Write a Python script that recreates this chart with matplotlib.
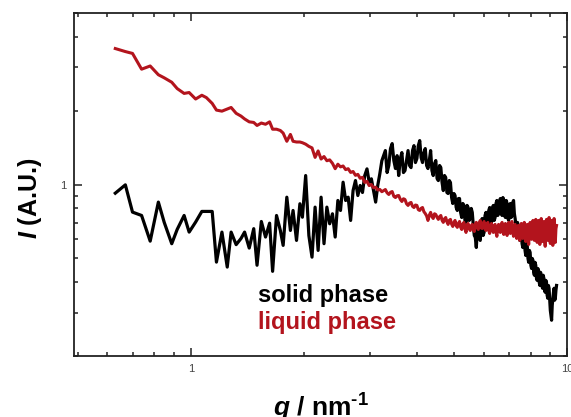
import numpy as np
import matplotlib
matplotlib.use('Agg')
import matplotlib.pyplot as plt
from matplotlib.ticker import FixedLocator, NullFormatter, FixedFormatter

plt.rcParams['font.family'] = ['Liberation Sans', 'DejaVu Sans']
plt.rcParams['mathtext.fontset'] = 'custom'
plt.rcParams['mathtext.it'] = 'Liberation Sans:italic:bold'
plt.rcParams['mathtext.rm'] = 'Liberation Sans:bold'
plt.rcParams['mathtext.bf'] = 'Liberation Sans:bold'

# scattering vector (nm^-1), low-q part (coarse steps)
q_low = [0.63, 0.67, 0.70, 0.74, 0.78, 0.82, 0.85, 0.89, 0.92, 0.96,
         0.99, 1.03, 1.07, 1.10, 1.14, 1.17, 1.21, 1.25, 1.28, 1.32,
         1.36, 1.39, 1.43, 1.47, 1.50, 1.54, 1.58, 1.62, 1.65, 1.69,
         1.73, 1.76, 1.80, 1.84, 1.87, 1.91, 1.95, 1.98,
         2.02, 2.06, 2.10, 2.14, 2.18, 2.22, 2.26, 2.30, 2.34, 2.38,
         2.42, 2.46, 2.50, 2.54, 2.58, 2.62, 2.66, 2.70, 2.74, 2.78,
         2.82, 2.86, 2.90, 2.94, 2.98, 3.02, 3.06, 3.10, 3.14, 3.18, 3.22]

# high-q part
q_high = [3.29, 3.325, 3.36, 3.395, 3.43, 3.465, 3.50, 3.535, 3.57, 3.605,
          3.64, 3.675, 3.71, 3.745, 3.78, 3.815, 3.85, 3.885, 3.92, 3.955,
          3.99, 4.025, 4.06, 4.095, 4.13, 4.165, 4.20, 4.235, 4.27, 4.305,
          4.34, 4.375, 4.41, 4.445, 4.48, 4.515, 4.55, 4.585, 4.62, 4.655,
          4.69, 4.725, 4.76, 4.795, 4.83, 4.865, 4.90, 4.935, 4.97, 5.005,
          5.04, 5.075, 5.11, 5.145, 5.18, 5.215, 5.25, 5.285, 5.32, 5.355,
          5.39, 5.425, 5.46, 5.495, 5.53, 5.565, 5.60, 5.635, 5.67, 5.705,
          5.74, 5.775, 5.81, 5.845, 5.88, 5.915, 5.95, 5.985, 6.02, 6.055,
          6.09, 6.125, 6.16, 6.195, 6.23, 6.265, 6.30, 6.335, 6.37, 6.405,
          6.44, 6.475, 6.51, 6.545, 6.58, 6.615, 6.65, 6.685, 6.72, 6.755,
          6.79, 6.825, 6.86, 6.895, 6.93, 6.965, 7.00, 7.035, 7.07, 7.105,
          7.14, 7.175, 7.21, 7.245, 7.28, 7.315, 7.35, 7.385, 7.42, 7.455,
          7.49, 7.525, 7.56, 7.595, 7.63, 7.665, 7.70, 7.735, 7.77, 7.805,
          7.84, 7.875, 7.91, 7.945, 7.98, 8.015, 8.05, 8.085, 8.12, 8.155,
          8.19, 8.225, 8.26, 8.295, 8.33, 8.365, 8.40, 8.435, 8.47, 8.505,
          8.54, 8.575, 8.61, 8.645, 8.68, 8.715, 8.75, 8.785, 8.82, 8.855,
          8.89, 8.925, 8.96, 8.995, 9.03, 9.065, 9.10, 9.135, 9.17, 9.205,
          9.24, 9.275, 9.31, 9.345, 9.38]

solid_low = [0.922, 0.997, 0.772, 0.748, 0.588, 0.848, 0.701, 0.574, 0.656, 0.748,
             0.640, 0.703, 0.777, 0.777, 0.777, 0.483, 0.640, 0.461, 0.640, 0.569,
             0.603, 0.640, 0.551, 0.661, 0.469, 0.707, 0.611, 0.696, 0.443, 0.748,
             0.650, 0.565, 0.888, 0.650, 0.784, 0.592, 0.835, 0.736,
             1.088, 0.620, 0.506, 0.809, 0.539, 0.888, 0.574, 0.809, 0.692, 0.760,
             0.611, 0.861, 0.784, 1.022, 0.861, 0.888, 0.714, 0.945, 1.038, 0.902,
             0.991, 0.928, 1.088, 1.158, 1.022, 1.055, 0.945, 0.848, 0.991, 1.105, 1.250]

solid_high = [1.375, 1.119, 1.195, 1.401, 1.468, 1.252, 1.162, 1.311, 1.088, 1.275,
              1.349, 1.119, 1.140, 1.252, 1.375, 1.195, 1.172, 1.375, 1.440, 1.229,
              1.275, 1.440, 1.510, 1.287, 1.229, 1.349, 1.401, 1.195, 1.162, 1.252,
              1.375, 1.140, 1.088, 1.217, 1.252, 1.058, 1.038, 1.195, 1.172, 1.019,
              0.945, 1.088, 1.068, 0.928, 0.919, 1.038, 1.019, 0.885, 0.837, 0.919,
              0.902, 0.806, 0.784, 0.877, 0.877, 0.770, 0.734, 0.837, 0.822, 0.714,
              0.701, 0.822, 0.806, 0.714, 0.727, 0.799, 0.770, 0.681, 0.620, 0.609,
              0.554, 0.650, 0.681, 0.609, 0.592, 0.701, 0.727, 0.620, 0.638, 0.748,
              0.770, 0.662, 0.681, 0.784, 0.806, 0.681, 0.701, 0.799, 0.822, 0.714,
              0.734, 0.837, 0.861, 0.748, 0.762, 0.845, 0.877, 0.770, 0.748, 0.885,
              0.861, 0.748, 0.734, 0.861, 0.837, 0.727, 0.714, 0.822, 0.837, 0.734,
              0.748, 0.845, 0.861, 0.762, 0.727, 0.681, 0.638, 0.701, 0.681, 0.620,
              0.592, 0.662, 0.638, 0.575, 0.554, 0.620, 0.592, 0.539, 0.514, 0.581,
              0.565, 0.500, 0.482, 0.539, 0.529, 0.469, 0.455, 0.500, 0.491, 0.439,
              0.427, 0.482, 0.469, 0.415, 0.407, 0.455, 0.447, 0.400, 0.388, 0.439,
              0.427, 0.388, 0.378, 0.427, 0.415, 0.371, 0.364, 0.407, 0.400, 0.354,
              0.344, 0.388, 0.378, 0.338, 0.307, 0.293, 0.280, 0.322, 0.344, 0.364,
              0.378, 0.338, 0.344, 0.371, 0.388]

liquid_low = [3.58, 3.48, 3.42, 2.95, 3.04, 2.80, 2.72, 2.61, 2.46, 2.35,
              2.37, 2.23, 2.31, 2.26, 2.14, 2.01, 1.99, 2.03, 2.06, 1.95,
              1.90, 1.85, 1.80, 1.79, 1.74, 1.78, 1.76, 1.80, 1.68, 1.68,
              1.66, 1.62, 1.50, 1.60, 1.50, 1.49, 1.49, 1.48,
              1.46, 1.43, 1.41, 1.29, 1.37, 1.27, 1.30, 1.25, 1.26, 1.22,
              1.16, 1.21, 1.18, 1.19, 1.15, 1.16, 1.12, 1.13, 1.09, 1.10,
              1.06, 1.07, 1.02, 1.03, 0.99, 1.00, 0.97, 0.975, 0.95, 0.955, 0.935]

liquid_high = [0.954, 0.925, 0.911, 0.930, 0.936, 0.895, 0.885, 0.900, 0.902, 0.870,
               0.853, 0.875, 0.869, 0.835, 0.822, 0.840, 0.845, 0.815, 0.806, 0.825,
               0.822, 0.790, 0.784, 0.800, 0.806, 0.775, 0.762, 0.745, 0.714, 0.750,
               0.770, 0.740, 0.727, 0.760, 0.755, 0.735, 0.721, 0.740, 0.748, 0.715,
               0.701, 0.725, 0.734, 0.705, 0.688, 0.715, 0.721, 0.690, 0.675, 0.700,
               0.714, 0.680, 0.669, 0.695, 0.707, 0.670, 0.656, 0.690, 0.701, 0.660,
               0.638, 0.685, 0.694, 0.660, 0.650, 0.680, 0.688, 0.655, 0.644, 0.690,
               0.701, 0.670, 0.656, 0.695, 0.714, 0.665, 0.662, 0.690, 0.707, 0.660,
               0.650, 0.685, 0.701, 0.650, 0.632, 0.680, 0.694, 0.655, 0.638, 0.675,
               0.688, 0.640, 0.615, 0.670, 0.688, 0.650, 0.638, 0.680, 0.701, 0.645,
               0.626, 0.675, 0.694, 0.640, 0.620, 0.670, 0.701, 0.645, 0.632, 0.685,
               0.707, 0.640, 0.615, 0.675, 0.688, 0.630, 0.603, 0.665, 0.681, 0.625,
               0.592, 0.675, 0.694, 0.640, 0.603, 0.680, 0.701, 0.630, 0.586, 0.670,
               0.688, 0.615, 0.570, 0.660, 0.701, 0.640, 0.598, 0.690, 0.714, 0.630,
               0.592, 0.695, 0.721, 0.620, 0.581, 0.680, 0.714, 0.615, 0.570, 0.690,
               0.727, 0.625, 0.586, 0.685, 0.707, 0.610, 0.560, 0.675, 0.721, 0.630,
               0.592, 0.700, 0.734, 0.620, 0.575, 0.690, 0.714, 0.605, 0.565, 0.680,
               0.727, 0.625, 0.581, 0.660, 0.681]

q = q_low + q_high
I_solid = solid_low + solid_high
I_liquid = liquid_low + liquid_high

red = '#b3141d'

fig = plt.figure(figsize=(5.71, 4.17), dpi=100)
ax = fig.add_axes([0.13, 0.146, 0.863, 0.823])

ax.plot(q, I_solid, color='black', lw=2.3)
ax.plot(q, I_liquid, color=red, lw=2.2)

ax.set_xscale('log')
ax.set_yscale('log')
ax.set_xlim(0.49, 10)
ax.set_ylim(0.2, 5)

ax.xaxis.set_major_locator(FixedLocator([1, 10]))
ax.xaxis.set_major_formatter(FixedFormatter(['1', '10']))
ax.xaxis.set_minor_locator(FixedLocator([0.5, 0.6, 0.7, 0.8, 0.9, 2, 3, 4, 5, 6, 7, 8, 9]))
ax.xaxis.set_minor_formatter(NullFormatter())
ax.yaxis.set_major_locator(FixedLocator([1]))
ax.yaxis.set_major_formatter(FixedFormatter(['1']))
ax.yaxis.set_minor_locator(FixedLocator([0.2, 0.3, 0.4, 0.5, 0.6, 0.7, 0.8, 0.9, 2, 3, 4, 5]))
ax.yaxis.set_minor_formatter(NullFormatter())

ax.tick_params(which='both', direction='in', top=True, right=True,
               width=1.1, color='#222222', labelsize=8, labelcolor='#444444', pad=6)
ax.tick_params(which='major', length=5.5)
ax.tick_params(which='minor', length=3)
for sp in ax.spines.values():
    sp.set_linewidth(1.3)
    sp.set_color('#222222')

ax.set_ylabel(r'$I$ (A.U.)', fontsize=18, fontweight='bold')
ax.yaxis.set_label_coords(-0.062, 0.46)
ax.set_xlabel(r'$q$ / nm$^{\text{-}1}$', fontsize=19, fontweight='bold')
ax.xaxis.set_label_coords(0.5, -0.104)

ax.text(0.373, 0.178, 'solid phase', transform=ax.transAxes, color='black',
        fontsize=17, fontweight='bold', va='center', ha='left')
ax.text(0.373, 0.099, 'liquid phase', transform=ax.transAxes, color=red,
        fontsize=17, fontweight='bold', va='center', ha='left')

fig.savefig('out.png', dpi=100)
